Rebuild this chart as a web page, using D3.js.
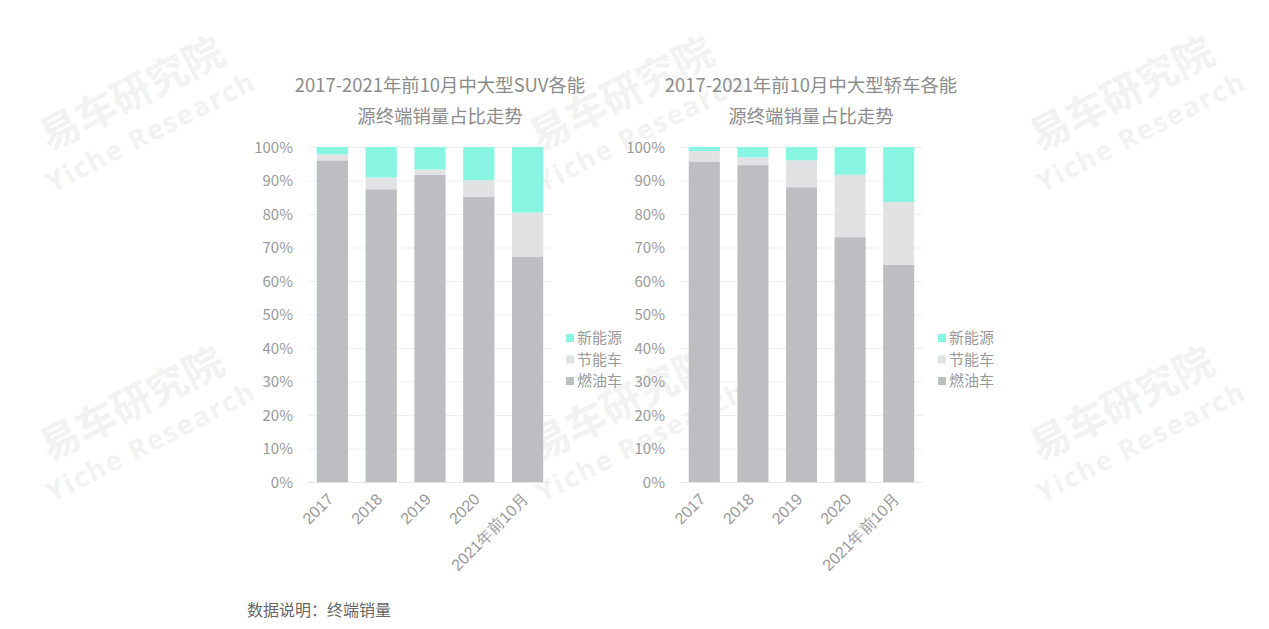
<!DOCTYPE html>
<html><head><meta charset="utf-8">
<script src="https://cdn.jsdelivr.net/npm/d3@7/dist/d3.min.js"></script>
<style>body{margin:0;background:#fff}svg{display:block;font-family:"Noto Sans CJK SC","Noto Sans",sans-serif}</style>
</head><body><svg id="c" width="1269" height="629"></svg>
<script>
const categories = ["2017","2018","2019","2020","2021年前10月"];
const seriesNames = ["燃油车","节能车","新能源"];
const colors = ["#bcbec1","#e1e2e3","#88f5e2"];
const yTicks = [0,10,20,30,40,50,60,70,80,90,100];
// SUV
const suvFuel = [96.0, 87.4, 91.7, 85.1, 67.3];
const suvSaving = [1.8, 3.5, 1.6, 5.0, 13.1];
const suvNew = [2.2, 9.1, 6.7, 9.9, 19.6];
// Sedan
const sedanFuel = [95.7, 94.6, 88.0, 73.1, 64.8];
const sedanSaving = [3.1, 2.3, 8.0, 18.6, 18.8];
const sedanNew = [1.2, 3.1, 4.0, 8.3, 16.4];
const titles = [["2017-2021年前10月中大型SUV各能","源终端销量占比走势"],["2017-2021年前10月中大型轿车各能","源终端销量占比走势"]];
const footnote = "数据说明：终端销量";

const svg = d3.select("#c");

// watermarks
const wmX = [140, 630, 1130], wmY = [110, 420];
const wm = svg.append("g");
wmX.forEach(x => wmY.forEach(y => {
  const g = wm.append("g").attr("transform", `translate(${x},${y}) rotate(-27)`);
  g.append("text").attr("text-anchor","middle").attr("y",-4).attr("font-size",40).attr("font-weight","bold")
    .attr("fill","#f2f2f2").text("易车研究院");
  g.append("text").attr("text-anchor","middle").attr("y",34).attr("font-size",27).attr("font-weight","bold")
    .attr("fill","#f2f2f2").attr("letter-spacing",2).attr("font-family","'Open Sans',sans-serif").text("Yiche Research");
}));

function drawChart(opts){
  const {x0,x1,titleX,legendX,data,title} = opts;
  const yTop = 147, yBot = 482;
  const x = d3.scaleBand().domain(categories).range([x0,x1]).paddingInner(0.36).paddingOuter(0.18);
  const y = d3.scaleLinear().domain([0,100]).range([yBot,yTop]);
  const g = svg.append("g");
  // grid
  g.selectAll("line.grid").data(yTicks).join("line")
    .attr("x1",x0).attr("x2",x1).attr("y1",d=>y(d)+0.5).attr("y2",d=>y(d)+0.5)
    .attr("stroke",d=>d===0?"#e6e6e6":"#efefef").attr("stroke-width",1);
  // y axis
  const ya = g.append("g").attr("transform",`translate(${x0-12},0)`)
    .call(d3.axisLeft(y).tickValues(yTicks).tickFormat(d=>d+"%").tickSize(0));
  ya.select(".domain").remove();
  ya.selectAll("text").attr("fill","#999").attr("font-size",15).attr("dy","0.35em")
    .attr("font-family","'Noto Sans CJK SC',sans-serif");
  // stacks
  const rows = categories.map((c,i)=>({cat:c, "燃油车":data[0][i], "节能车":data[1][i], "新能源":data[2][i]}));
  const stack = d3.stack().keys(seriesNames)(rows);
  stack.forEach((s,si)=>{
    g.append("g").attr("fill",colors[si]).selectAll("rect").data(s).join("rect")
      .attr("x",d=>x(d.data.cat)).attr("width",x.bandwidth())
      .attr("y",d=>y(Math.min(100,d[1]))).attr("height",d=>y(d[0])-y(Math.min(100,d[1])));
  });
  // x axis
  const xa = g.append("g").attr("transform",`translate(0,${yBot})`).call(d3.axisBottom(x).tickSize(0));
  xa.select(".domain").remove();
  xa.selectAll("text").attr("fill","#999").attr("font-size",16)
    .attr("text-anchor","end").attr("transform","translate(-4,12) rotate(-45)").attr("dy","0.35em").attr("dx",0);
  // title
  g.append("g").selectAll("text").data(title).join("text")
    .attr("x",titleX).attr("y",(d,i)=>92+i*31).attr("text-anchor","middle")
    .attr("font-size",18.4).attr("fill","#8c8c8c").text(d=>d);
  // legend
  const lg = g.append("g").attr("transform",`translate(${legendX},338)`);
  const order = [2,1,0];
  order.forEach((si,k)=>{
    lg.append("rect").attr("x",0).attr("y",k*21.5-4).attr("width",8).attr("height",8).attr("fill",colors[si]);
    lg.append("text").attr("x",11).attr("y",k*21.5).attr("dy","0.35em").attr("font-size",15).attr("fill","#999").text(seriesNames[si]);
  });
}
drawChart({x0:308,x1:552,titleX:440,legendX:566,data:[suvFuel,suvSaving,suvNew],title:titles[0]});
drawChart({x0:680,x1:923,titleX:811,legendX:938,data:[sedanFuel,sedanSaving,sedanNew],title:titles[1]});

svg.append("text").attr("x",247).attr("y",616).attr("font-size",16).attr("fill","#666").text(footnote);
</script></body></html>
